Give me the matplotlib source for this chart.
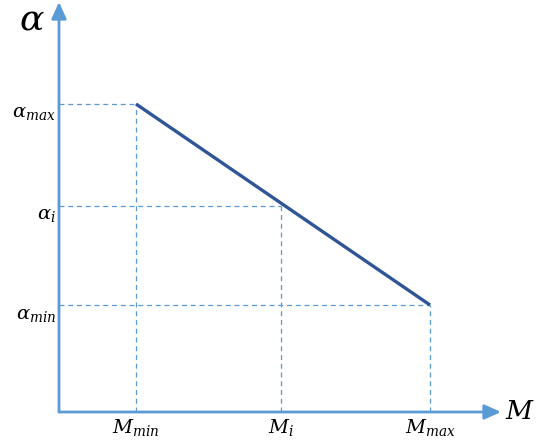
import matplotlib
matplotlib.use("Agg")
import matplotlib.pyplot as plt

# values (units relative to the origin)
M_vals = [77, 222, 371]          # M_min, M_i, M_max
alpha_vals = [308, 206, 107]     # alpha_max, alpha_i, alpha_min
M_labels = [r"$M_{min}$", r"$M_i$", r"$M_{max}$"]
alpha_labels = [r"$\alpha_{max}$", r"$\alpha_i$", r"$\alpha_{min}$"]

axis_col = "#5B9BD5"
line_col = "#2F5597"

plt.rcParams["mathtext.fontset"] = "dejavuserif"

fig = plt.figure(figsize=(5.5, 4.46), dpi=100)
ax = fig.add_axes([0, 0, 1, 1])
ax.set_xlim(-59, 491)
ax.set_ylim(-34, 412)
ax.axis("off")

# axes with arrows
ax.annotate("", xy=(442, 0), xytext=(0, 0),
            arrowprops=dict(arrowstyle="-|>,head_length=1.0,head_width=0.45",
                            color=axis_col, lw=2, shrinkA=0, shrinkB=0))
ax.annotate("", xy=(0, 410), xytext=(0, 0),
            arrowprops=dict(arrowstyle="-|>,head_length=1.0,head_width=0.45",
                            color=axis_col, lw=2, shrinkA=0, shrinkB=0))

# dashed guides
for m, a in zip(M_vals, alpha_vals):
    ax.plot([0, m], [a, a], ls=(0, (4, 3)), color=axis_col, lw=0.9)
    ax.plot([m, m], [0, a], ls=(0, (4, 3)), color=axis_col, lw=0.9)

# main line
ax.plot([M_vals[0], M_vals[-1]], [alpha_vals[0], alpha_vals[-1]],
        color=line_col, lw=2.4, solid_capstyle="butt")

# tick labels
for m, lab in zip(M_vals, M_labels):
    ax.text(m, -5, lab, ha="center", va="top", fontsize=14)
for a, lab in zip(alpha_vals, alpha_labels):
    ax.text(-3, a - 9, lab, ha="right", va="center", fontsize=14)

ax.text(-27, 393, r"$\alpha$", ha="center", va="center", fontsize=26)
ax.text(461, 0, r"$M$", ha="center", va="center", fontsize=19)

fig.savefig("out.png", dpi=100)
